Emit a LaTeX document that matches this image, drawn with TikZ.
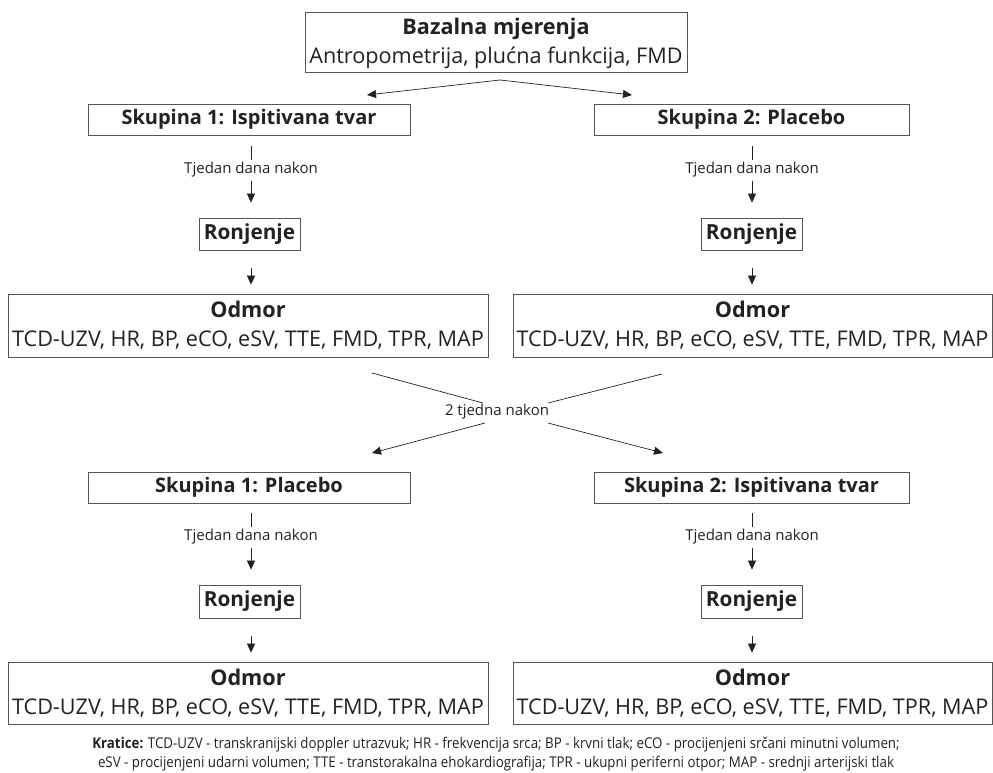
\documentclass[tikz,border=0pt]{standalone}
\usepackage{fontspec}
\setmainfont{Open Sans}
\newfontfamily\condfont[FakeStretch=0.9]{Open Sans}
\usetikzlibrary{arrows.meta,shadows}
\definecolor{ink}{HTML}{222222}
\definecolor{edge}{HTML}{555555}
\tikzset{
  box/.style={draw=edge, line width=0.8pt, fill=white, inner sep=0pt, align=center, text=ink,
    drop shadow={shadow xshift=1.3pt, shadow yshift=-1.3pt, fill=black!35, opacity=1}},
  big/.style={font=\fontsize{21.6}{29}\selectfont},
  head/.style={font=\fontsize{20}{22}\selectfont\bfseries},
  rbox/.style={box, font=\fontsize{20.8}{22}\selectfont\bfseries, minimum width=101},
  small/.style={font=\fontsize{15}{17}\selectfont, text=ink, inner sep=1pt},
  arr/.style={-{Triangle[length=9pt,width=8pt]}, line width=0.7pt, draw=ink},
  ln/.style={line width=0.7pt, draw=ink},
}
\begin{document}
\begin{tikzpicture}[x=1pt,y=-1pt]
\useasboundingbox (0,0) rectangle (993,772);

% top
\node[box, big, minimum width=382, minimum height=60, text depth=2pt] (top) at (496,42)
  {\textbf{Bazalna mjerenja}\\Antropometrija, plućna funkcija, FMD};
\coordinate (peak) at (500,80);
\coordinate (tl) at (367,95);
\coordinate (tr) at (632,95);
\draw[arr] (peak) -- (tl);
\draw[arr] (peak) -- (tr);

% upper row
\node[box, head, minimum width=322, minimum height=31] (s1a) at (249,119.5) {Skupina 1: Ispitivana tvar};
\node[box, head, minimum width=315, minimum height=31] (s2a) at (751.5,119.5) {Skupina 2: Placebo};
\node[small] (t1a) at (251,170) {Tjedan dana nakon};
\node[small] (t2a) at (752,170) {Tjedan dana nakon};
\node[rbox, minimum height=32] (r1a) at (249.5,234) {Ronjenje};
\node[rbox, minimum height=32] (r2a) at (751.5,234) {Ronjenje};
\node[box, big, minimum width=480, minimum height=63] (o1a) at (248,325.5)
  {\textbf{Odmor}\\TCD-UZV, HR, BP, eCO, eSV, TTE, FMD, TPR, MAP};
\node[box, big, minimum width=479, minimum height=63] (o2a) at (752.5,325.5)
  {\textbf{Odmor}\\TCD-UZV, HR, BP, eCO, eSV, TTE, FMD, TPR, MAP};

\foreach \g in {1,2}{
  \draw[ln, shorten <=11pt, shorten >=1pt] (s\g a.south -| t\g a) -- (t\g a.north);
  \draw[arr, shorten <=2pt, shorten >=15pt] (t\g a.south) -- (r\g a.north -| t\g a);
  \draw[arr, shorten <=18pt, shorten >=9pt] (r\g a.south -| t\g a) -- (o\g a.north -| t\g a);
}

% cross
\coordinate (c1) at (372,373);
\coordinate (a1) at (483,403);
\coordinate (c2) at (662,374);
\coordinate (b1) at (548,403);
\coordinate (a2) at (485,423);
\coordinate (d1) at (372,453);
\coordinate (b2) at (548,423);
\coordinate (d2) at (663,453);
\node[small] (two) at (497,412) {2 tjedna nakon};
\draw[ln] (c1) -- (a1);
\draw[ln] (c2) -- (b1);
\draw[arr] (a2) -- (d1);
\draw[arr] (b2) -- (d2);

% lower row
\node[box, head, minimum width=322, minimum height=31] (s1b) at (249,487.5) {Skupina 1: Placebo};
\node[box, head, minimum width=315, minimum height=31] (s2b) at (751.5,487.5) {Skupina 2: Ispitivana tvar};
\node[small] (t1b) at (251,537) {Tjedan dana nakon};
\node[small] (t2b) at (752,537) {Tjedan dana nakon};
\node[rbox, minimum height=33] (r1b) at (249.5,601.5) {Ronjenje};
\node[rbox, minimum height=33] (r2b) at (751.5,601.5) {Ronjenje};
\node[box, big, minimum width=480, minimum height=62] (o1b) at (248,693)
  {\textbf{Odmor}\\TCD-UZV, HR, BP, eCO, eSV, TTE, FMD, TPR, MAP};
\node[box, big, minimum width=479, minimum height=62] (o2b) at (752.5,693)
  {\textbf{Odmor}\\TCD-UZV, HR, BP, eCO, eSV, TTE, FMD, TPR, MAP};

\foreach \g in {1,2}{
  \draw[ln, shorten <=10pt, shorten >=1pt] (s\g b.south -| t\g b) -- (t\g b.north);
  \draw[arr, shorten <=2pt, shorten >=15pt] (t\g b.south) -- (r\g b.north -| t\g b);
  \draw[arr, shorten <=18pt, shorten >=9pt] (r\g b.south -| t\g b) -- (o\g b.north -| t\g b);
}

% legend
\node[align=center, text=ink, font=\condfont\fontsize{14.8}{19}\selectfont, inner sep=0pt] (leg) at (496,754.5)
  {\textbf{Kratice:} TCD-UZV - transkranijski doppler utrazvuk; HR - frekvencija srca; BP - krvni tlak; eCO - procijenjeni srčani minutni volumen;\\
   eSV - procijenjeni udarni volumen; TTE - transtorakalna ehokardiografija; TPR - ukupni periferni otpor; MAP - srednji arterijski tlak};
\end{tikzpicture}
\end{document}
